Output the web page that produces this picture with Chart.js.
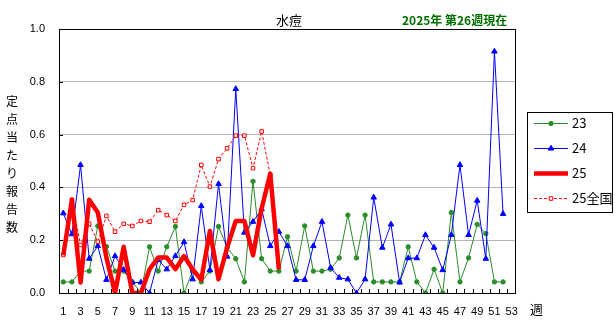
<!DOCTYPE html>
<html>
<head>
<meta charset="utf-8">
<script src="https://cdn.jsdelivr.net/npm/chart.js@4.4.0/dist/chart.umd.min.js"></script>
<style>
    body { margin: 0; background: #fff; }
    #wrap { position: relative; width: 615px; height: 325px; }
    canvas { position: absolute; left: 0; top: 0; }
    .txt { position: absolute; font-family: "Noto Sans CJK JP", sans-serif; white-space: nowrap; }
</style>
</head>
<body>
<div id="wrap">
    <canvas id="chart" width="615" height="325"></canvas>
    <div class="txt" style="left:276px; top:13px; font-size:13px; line-height:14px;">水痘</div>
    <div class="txt" style="left:402px; top:13px; font-size:12px; line-height:14px; font-weight:bold; color:#007000;">2025年 第26週現在</div>
    <div class="txt" style="left:6px; top:92px; font-size:12px; line-height:18px; width:14px; white-space:normal;">定<br>点<br>当<br>た<br>り<br>報<br>告<br>数</div>
    <div class="txt" style="left:530px; top:302px; font-size:13px; line-height:14px;">週</div>
</div>

<script>
// Week labels (1 - 53)
const weeks = [];
for (let w = 1; w <= 53; w++) weeks.push(String(w));

// Reports per sentinel
const data23 = [
    0.042, 0.042, 0.083, 0.083, 0.254, 0.176, 0.083, 0.083, 0.042, 0.0,
    0.175, 0.083, 0.175, 0.252, 0.0, 0.083, 0.042, 0.083, 0.252, 0.172,
    0.13, 0.042, 0.423, 0.13, 0.083, 0.083, 0.213, 0.083, 0.254, 0.083,
    0.083, 0.09, 0.133, 0.295, 0.133, 0.295, 0.042, 0.042, 0.042, 0.042,
    0.175, 0.042, 0.0, 0.09, 0.0, 0.305, 0.042, 0.133, 0.26, 0.225,
    0.042, 0.042
];
const data24 = [
    0.302, 0.223, 0.485, 0.13, 0.178, 0.05, 0.14, 0.088, 0.04, 0.04,
    0.0, 0.125, 0.09, 0.14, 0.193, 0.052, 0.33, 0.087, 0.413, 0.138,
    0.773, 0.229, 0.27, 0.318, 0.178, 0.232, 0.178, 0.05, 0.05, 0.178,
    0.27, 0.096, 0.058, 0.052, 0.0, 0.052, 0.362, 0.172, 0.26, 0.04,
    0.132, 0.132, 0.22, 0.172, 0.087, 0.22, 0.485, 0.22, 0.35, 0.13,
    0.915, 0.3
];
const data25 = [
    0.143, 0.353, 0.04, 0.353, 0.305, 0.134, 0.0, 0.175, 0.0, 0.0,
    0.09, 0.134, 0.134, 0.09, 0.14, 0.09, 0.05, 0.235, 0.052, 0.172,
    0.273, 0.273, 0.143, 0.32, 0.452, 0.09
];
const data25all = [
    0.144, 0.353, 0.182, 0.262, 0.194, 0.292, 0.232, 0.262, 0.254, 0.273,
    0.27, 0.314, 0.295, 0.273, 0.334, 0.352, 0.485, 0.403, 0.507, 0.548,
    0.596, 0.596, 0.473, 0.612, 0.448
];

// Frame, inner tick marks and legend box
const framePlugin = {
    id: "frame",
    afterDraw(chart) {
        const ctx = chart.ctx;
        const a = chart.chartArea;
        const ys = chart.scales.y;
        ctx.save();
        ctx.strokeStyle = "#000";
        ctx.lineWidth = 1;
        ctx.strokeRect(a.left + 0.5, a.top + 0.5, a.right - a.left - 1, a.bottom - a.top);

        // x ticks between categories
        const step = (a.right - a.left) / weeks.length;
        ctx.beginPath();
        for (let i = 1; i < weeks.length; i++) {
            const px = Math.round(a.left + i * step) + 0.5;
            ctx.moveTo(px, a.bottom);
            ctx.lineTo(px, a.bottom - 4);
        }
        // y ticks
        ys.ticks.forEach(t => {
            const py = Math.round(ys.getPixelForValue(t.value)) + 0.5;
            ctx.moveTo(a.left, py);
            ctx.lineTo(a.left + 4, py);
        });
        ctx.stroke();

        // legend
        ctx.strokeRect(527.5, 112.5, 85, 100);
        const rows = [123, 148, 173, 198];
        chart.data.datasets.forEach((ds, i) => {
            const y = rows[i] + 0.5;
            ctx.save();
            ctx.strokeStyle = ds.borderColor;
            ctx.lineWidth = ds.borderWidth;
            ctx.setLineDash(ds.borderDash || []);
            ctx.beginPath();
            ctx.moveTo(534, y);
            ctx.lineTo(568, y);
            ctx.stroke();
            ctx.setLineDash([]);
            ctx.lineWidth = 1;
            ctx.fillStyle = ds.pointBackgroundColor;
            Chart.helpers.drawPoint(ctx, {
                pointStyle: ds.pointStyle,
                radius: ds.pointRadius,
                borderWidth: 1,
                rotation: 0
            }, 551, y);
            ctx.restore();
            ctx.fillStyle = "#000";
            ctx.font = "13px 'Noto Sans CJK JP'";
            ctx.textBaseline = "middle";
            ctx.fillText(ds.label, 572, y);
        });
        ctx.restore();
    }
};

const ctx = document.getElementById("chart").getContext("2d");
new Chart(ctx, {
    type: "line",
    data: {
        labels: weeks,
        datasets: [
            {
                label: "23",
                data: data23,
                borderColor: "#2a8c2a",
                backgroundColor: "#2a8c2a",
                pointBackgroundColor: "#2a8c2a",
                borderWidth: 1,
                pointStyle: "circle",
                pointRadius: 2.2,
                tension: 0,
                order: 3
            },
            {
                label: "24",
                data: data24,
                borderColor: "#0000ff",
                backgroundColor: "#0000ff",
                pointBackgroundColor: "#0000ff",
                borderWidth: 1,
                pointStyle: "triangle",
                pointRadius: 3.2,
                tension: 0,
                order: 2
            },
            {
                label: "25",
                data: data25,
                borderColor: "#ff0000",
                backgroundColor: "#ff0000",
                pointBackgroundColor: "#ff0000",
                borderWidth: 4.5,
                borderJoinStyle: "round",
                pointStyle: "rect",
                pointRadius: 0,
                tension: 0,
                order: 0
            },
            {
                label: "25全国",
                data: data25all,
                borderColor: "#ff0000",
                backgroundColor: "#ffffff",
                pointBackgroundColor: "#ffffff",
                pointBorderColor: "#ff0000",
                borderWidth: 1,
                borderDash: [3, 2],
                pointStyle: "rect",
                pointRadius: 2.5,
                tension: 0,
                order: 1
            }
        ]
    },
    options: {
        responsive: false,
        animation: false,
        layout: {
            padding: { left: 0, top: 29, right: 99, bottom: 0 }
        },
        plugins: {
            legend: { display: false },
            tooltip: { enabled: false }
        },
        scales: {
            x: {
                offset: true,
                afterFit: s => { s.height = 32; },
                grid: { display: false, drawTicks: false },
                border: { display: false },
                ticks: {
                    autoSkip: false,
                    maxRotation: 0,
                    padding: 12,
                    color: "#000",
                    font: { family: "Liberation Sans", size: 11 },
                    callback: (v, i) => (i % 2 === 0 ? weeks[i] : "")
                }
            },
            y: {
                min: 0,
                max: 1,
                afterFit: s => { s.width = 59; },
                grid: {
                    drawTicks: false,
                    color: c => (c.tick.value > 0.01 && c.tick.value < 0.99 ? "#b4b4b4" : "rgba(0,0,0,0)")
                },
                border: { display: false },
                ticks: {
                    stepSize: 0.2,
                    padding: 14,
                    color: "#000",
                    font: { family: "Liberation Sans", size: 11 },
                    callback: v => v.toFixed(1)
                }
            }
        }
    },
    plugins: [framePlugin]
});
</script>
</body>
</html>
